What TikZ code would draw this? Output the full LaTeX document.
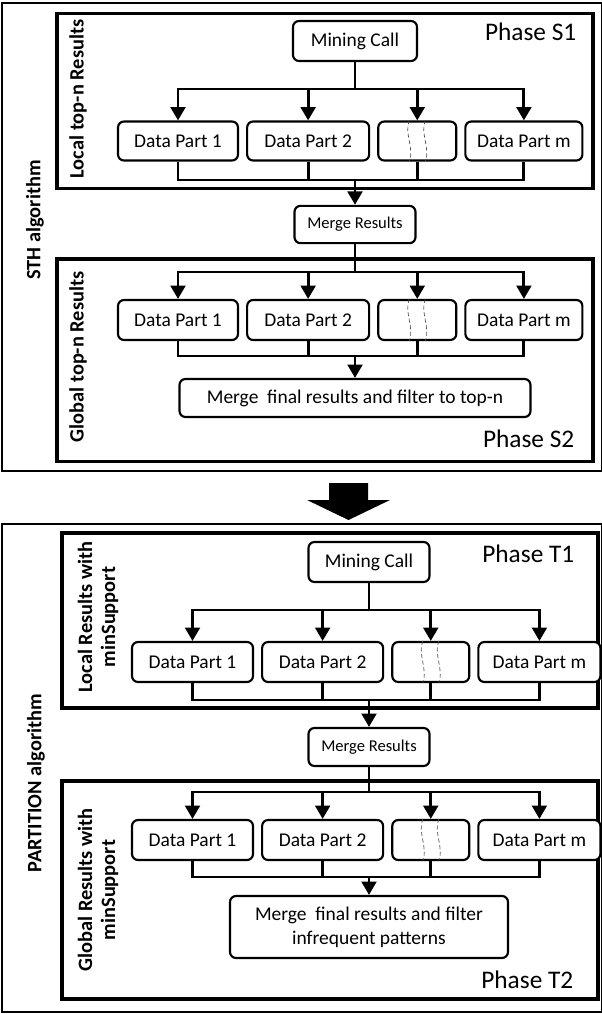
\documentclass[tikz,border=0pt]{standalone}
\usepackage{fontspec}
\setmainfont{Carlito}
\usetikzlibrary{arrows.meta}
\usetikzlibrary{positioning}

\newcommand{\partfont}{\fontsize{14.6pt}{18pt}\selectfont}
\newcommand{\mergefont}{\fontsize{12.4pt}{15pt}\selectfont}
\newcommand{\phasefont}{\fontsize{19pt}{22pt}\selectfont}
\newcommand{\sidefont}{\fontsize{15.3pt}{17.3pt}\selectfont\bfseries}

% wavy dashed strip inside the empty data part
\newcommand{\tornstrip}[1]{
  \draw[torn] ([xshift=-6pt]#1.north)
    .. controls ([xshift=-10pt,yshift=-10pt]#1.north) and ([xshift=-2pt,yshift=10pt]#1.south)
    .. ([xshift=-6pt]#1.south);
  \draw[torn] ([xshift=6pt]#1.north)
    .. controls ([xshift=2pt,yshift=-10pt]#1.north) and ([xshift=10pt,yshift=10pt]#1.south)
    .. ([xshift=6pt]#1.south);
}

\tikzset {
  % frame of a whole algorithm
  algoframe/.style = {
    draw = black,
    line width = 1.2pt
  },
  % frame of one phase
  phaseframe/.style = {
    draw = black,
    line width = 2.8pt
  },
  % connector without tip
  conn/.style = {
    draw = black,
    line width = 2.2pt
  },
  % connector ending in a tip
  arr/.style = {
    conn,
    -{Triangle[width=11pt,length=10pt]}
  },
  torn/.style = {
    draw = black!70,
    line width = 0.5pt,
    densely dashed
  }
}
\tikzset {
  proc/.style = {
    draw = black,
    fill = white,
    line width = 1.6pt,
    rounded corners = 4.5pt,
    inner sep = 0pt,
    minimum height = 29.25pt,
    font = \partfont
  },
  mergebox/.style = {
    proc,
    font = \mergefont,
    minimum width = 90.75pt,
    minimum height = 28pt
  },
  % empty data part
  gapbox/.style = {
    proc,
    minimum width = 58.5pt
  },
  sidelabel/.style = {
    rotate = 90,
    align = center,
    font = \sidefont
  },
  phasename/.style = {
    anchor = base east,
    font = \phasefont
  },
  node distance = 5.25pt
}

\begin{document}
\begin{tikzpicture}[x=0.75pt, y=-0.75pt]
  \useasboundingbox (0,0) rectangle (601,1014);

  %% STH algorithm
  \draw[algoframe] (2,3) rectangle (602,471);
  \node[sidelabel] (sthname) at (35,220) {STH algorithm};

  % Phase S1
  \draw[phaseframe] (57,13.5) rectangle (593,188.5);
  \node[sidelabel] (s1name) at (78,99) {Local top-n Results};
  \node[phasename] (s1phase) at (581,40) {Phase S1};
  \node[proc, minimum width=93pt, minimum height=30pt] (s1call) at (355,41) {Mining Call};
  \node[proc, minimum width=90pt] (s1p1) at (178,141) {Data Part 1};
  \node[proc, minimum width=91.5pt, right=of s1p1] (s1p2) {Data Part 2};
  \node[gapbox, right=of s1p2] (s1p3) {};
  \node[proc, minimum width=87.75pt, right=of s1p3] (s1pm) {Data Part m};
  \tornstrip{s1p3}
  \coordinate (s1fork) at (355,89);
  \coordinate (s1join) at (355,180);
  \node[mergebox] (s1merge) at (355,224.5) {Merge Results};

  \draw[conn] (s1call) -- (s1fork);
  \foreach \n in {s1p1,s1p2,s1p3,s1pm}
    \draw[arr] (s1fork) -| (\n.north);
  \foreach \n in {s1p1,s1p2,s1p3,s1pm}
    \draw[conn] (\n.south) |- (s1join);
  \draw[arr] (s1join) -- (s1merge);

  % Phase S2
  \draw[phaseframe] (57,259) rectangle (593,461.5);
  \node[sidelabel] (s2name) at (78,357) {Global top-n Results};
  \node[phasename] (s2phase) at (579,447) {Phase S2};
  \node[proc, minimum width=90pt, minimum height=30pt] (s2p1) at (178,320) {Data Part 1};
  \node[proc, minimum width=91.5pt, minimum height=30pt, right=of s2p1] (s2p2) {Data Part 2};
  \node[gapbox, minimum height=30pt, right=of s2p2] (s2p3) {};
  \node[proc, minimum width=87.75pt, minimum height=30pt, right=of s2p3] (s2pm) {Data Part m};
  \tornstrip{s2p3}
  \coordinate (s2fork) at (355,272);
  \coordinate (s2join) at (355,356);
  \node[proc, minimum width=263.25pt, minimum height=28.5pt] (s2final) at (355,398) {Merge\ \ final results and filter to top-n};

  \draw[conn] (s1merge) -- (s2fork);
  \foreach \n in {s2p1,s2p2,s2p3,s2pm}
    \draw[arr] (s2fork) -| (\n.north);
  \foreach \n in {s2p1,s2p2,s2p3,s2pm}
    \draw[conn] (\n.south) |- (s2join);
  \draw[arr] (s2join) -- (s2final);

  % big arrow between the two algorithms
  \fill[black] (329,483) -- (368,483) -- (368,500) -- (390,500)
    -- (348.5,520) -- (307,500) -- (329,500) -- cycle;

  %% PARTITION algorithm
  \draw[algoframe] (2,524) rectangle (602,1012);
  \node[sidelabel] (partname) at (36,783) {PARTITION algorithm};

  % Phase T1
  \draw[phaseframe] (62,533) rectangle (598,708);
  \node[sidelabel] (t1name) at (98,617) {Local Results with\\minSupport};
  \node[phasename] (t1phase) at (579,562) {Phase T1};
  \node[proc, minimum width=90.75pt, minimum height=30pt] (t1call) at (369,562) {Mining Call};
  \node[proc, minimum width=90.75pt, minimum height=30pt] (t1p1) at (192.5,662) {Data Part 1};
  \node[proc, minimum width=90.75pt, minimum height=30pt, right=of t1p1] (t1p2) {Data Part 2};
  \node[gapbox, minimum width=57.75pt, minimum height=30pt, right=of t1p2] (t1p3) {};
  \node[proc, minimum width=91.5pt, minimum height=30pt, right=of t1p3] (t1pm) {Data Part m};
  \tornstrip{t1p3}
  \coordinate (t1fork) at (369,610);
  \coordinate (t1join) at (369,700);
  \node[mergebox, minimum height=28.5pt] (t1merge) at (369,747) {Merge Results};

  \draw[conn] (t1call) -- (t1fork);
  \foreach \n in {t1p1,t1p2,t1p3,t1pm}
    \draw[arr] (t1fork) -| (\n.north);
  \foreach \n in {t1p1,t1p2,t1p3,t1pm}
    \draw[conn] (\n.south) |- (t1join);
  \draw[arr] (t1join) -- (t1merge);

  % Phase T2
  \draw[phaseframe] (62,781) rectangle (598,999);
  \node[sidelabel] (t2name) at (98,890) {Global Results with\\minSupport};
  \node[phasename] (t2phase) at (578,988) {Phase T2};
  \node[proc, minimum width=90.75pt, minimum height=30pt] (t2p1) at (192.5,840) {Data Part 1};
  \node[proc, minimum width=90.75pt, minimum height=30pt, right=of t2p1] (t2p2) {Data Part 2};
  \node[gapbox, minimum width=57.75pt, minimum height=30pt, right=of t2p2] (t2p3) {};
  \node[proc, minimum width=91.5pt, minimum height=30pt, right=of t2p3] (t2pm) {Data Part m};
  \tornstrip{t2p3}
  \coordinate (t2fork) at (369,792);
  \coordinate (t2join) at (369,877);
  \node[proc, align=center, minimum width=208.5pt, minimum height=46.5pt] (t2final) at (369,927) {Merge\ \ final results and filter\\infrequent patterns};

  \draw[conn] (t1merge) -- (t2fork);
  \foreach \n in {t2p1,t2p2,t2p3,t2pm}
    \draw[arr] (t2fork) -| (\n.north);
  \foreach \n in {t2p1,t2p2,t2p3,t2pm}
    \draw[conn] (\n.south) |- (t2join);
  \draw[arr] (t2join) -- (t2final);
\end{tikzpicture}
\end{document}
